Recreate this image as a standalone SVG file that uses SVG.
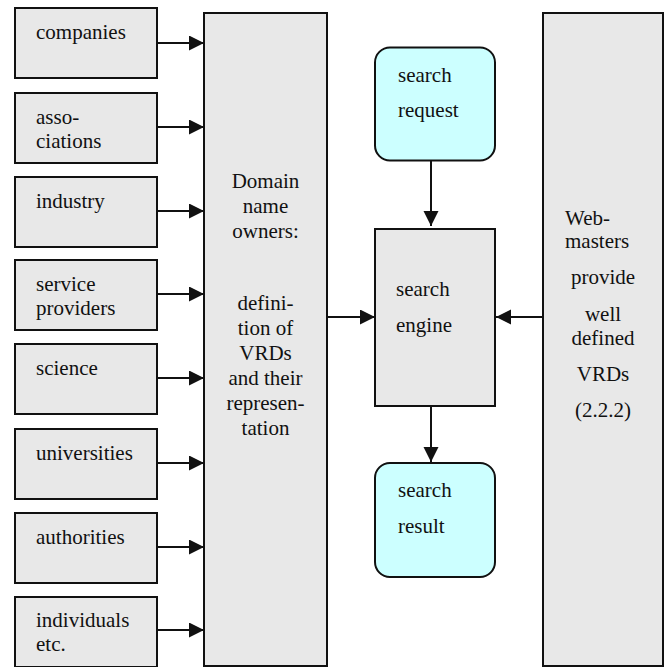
<svg xmlns="http://www.w3.org/2000/svg" width="670" height="667" viewBox="0 0 670 667">
<style>
.box{fill:#e8e8e8;stroke:#111;stroke-width:2}
.rnd{fill:#ccffff;stroke:#111;stroke-width:2}
text{font-family:Liberation Serif,DejaVu Serif,Times,serif;font-size:21px;fill:#111}
.c{text-anchor:middle}
.ln{stroke:#111;stroke-width:2;fill:none;marker-end:url(#ah)}
</style>
<defs>
<marker id="ah" markerUnits="userSpaceOnUse" markerWidth="16" markerHeight="16" refX="15" refY="7.5" orient="auto" viewBox="0 0 16 16">
<path d="M0,0 L15,7.5 L0,15 z" fill="#111"/>
</marker>
</defs>
<rect width="670" height="667" fill="#fff"/>
<g id="companies"><rect class="box" x="15" y="8" width="142" height="70"/><text x="36" y="39" font-family="Liberation Serif">companies</text></g>
<g id="associations"><rect class="box" x="15" y="93" width="142" height="70"/><text x="36" y="124">asso-</text><text x="36" y="148">ciations</text></g>
<g id="industry"><rect class="box" x="15" y="177" width="142" height="70"/><text x="36" y="208">industry</text></g>
<g id="service"><rect class="box" x="15" y="260" width="142" height="70"/><text x="36" y="291">service</text><text x="36" y="315">providers</text></g>
<g id="science"><rect class="box" x="15" y="344" width="142" height="70"/><text x="36" y="375">science</text></g>
<g id="universities"><rect class="box" x="15" y="429" width="142" height="70"/><text x="36" y="460">universities</text></g>
<g id="authorities"><rect class="box" x="15" y="513" width="142" height="70"/><text x="36" y="544">authorities</text></g>
<g id="individuals"><rect class="box" x="15" y="597" width="142" height="70"/><text x="36" y="627">individuals</text><text x="36" y="651">etc.</text></g>
<g id="domain"><rect class="box" x="204" y="13" width="123" height="653"/>
<text class="c" x="265.5" y="188">Domain</text>
<text class="c" x="265.5" y="213">name</text>
<text class="c" x="265.5" y="238">owners:</text>
<text class="c" x="265.5" y="310">defini-</text>
<text class="c" x="265.5" y="335">tion of</text>
<text class="c" x="265.5" y="360">VRDs</text>
<text class="c" x="265.5" y="385">and their</text>
<text class="c" x="265.5" y="410">represen-</text>
<text class="c" x="265.5" y="435">tation</text>
</g>
<g id="request"><rect class="rnd" x="375" y="47.5" width="120" height="113" rx="15" ry="15"/><text x="398" y="82">search</text><text x="398" y="117">request</text></g>
<g id="engine"><rect class="box" x="375" y="229" width="120" height="177"/><text x="396" y="296">search</text><text x="396" y="332">engine</text></g>
<g id="result"><rect class="rnd" x="375" y="463" width="120" height="114" rx="15" ry="15"/><text x="398" y="497">search</text><text x="398" y="533">result</text></g>
<g id="webmasters"><rect class="box" x="543" y="13" width="120" height="653"/>
<text x="565" y="225">Web-</text>
<text x="565" y="248">masters</text>
<text class="c" x="603" y="284">provide</text>
<text class="c" x="603" y="321">well</text>
<text class="c" x="603" y="345">defined</text>
<text class="c" x="603" y="381">VRDs</text>
<text class="c" x="603" y="417">(2.2.2)</text>
</g>
<g id="connectors">
<line class="ln" x1="157" y1="43" x2="204" y2="43"/>
<line class="ln" x1="157" y1="127" x2="204" y2="127"/>
<line class="ln" x1="157" y1="211" x2="204" y2="211"/>
<line class="ln" x1="157" y1="294" x2="204" y2="294"/>
<line class="ln" x1="157" y1="378" x2="204" y2="378"/>
<line class="ln" x1="157" y1="463" x2="204" y2="463"/>
<line class="ln" x1="157" y1="547" x2="204" y2="547"/>
<line class="ln" x1="157" y1="630" x2="204" y2="630"/>
<line class="ln" x1="327" y1="317" x2="375" y2="317"/>
<line class="ln" x1="543" y1="317" x2="496" y2="317"/>
<line class="ln" x1="431" y1="160.5" x2="431" y2="226"/>
<line class="ln" x1="431" y1="406" x2="431" y2="462"/>
</g>
</svg>
